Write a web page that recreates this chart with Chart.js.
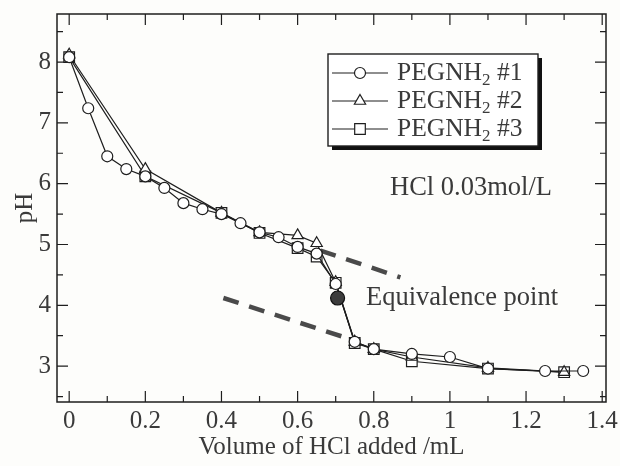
<!DOCTYPE html>
<html>
<head>
<meta charset="utf-8">
<script src="https://cdn.jsdelivr.net/npm/chart.js@4/dist/chart.umd.min.js"></script>
<style>
html, body { margin: 0; background: #fdfdfb; }
#wrap { width: 620px; height: 466px; }
</style>
</head>
<body>
<div id="wrap"><canvas id="chart"></canvas></div>
<script>
// titration curves
var x1 = [0, 0.05, 0.1, 0.15, 0.2, 0.25, 0.3, 0.35, 0.4, 0.45, 0.5, 0.55, 0.6, 0.65, 0.7, 0.75, 0.8, 0.9, 1.0, 1.1, 1.25, 1.35];
var y1 = [8.08, 7.24, 6.45, 6.24, 6.12, 5.93, 5.68, 5.58, 5.5, 5.35, 5.2, 5.12, 4.96, 4.85, 4.35, 3.4, 3.28, 3.2, 3.15, 2.96, 2.92, 2.92];
var x2 = [0, 0.2, 0.4, 0.5, 0.6, 0.65, 0.7, 0.75, 0.8, 0.9, 1.1, 1.3];
var y2 = [8.12, 6.24, 5.52, 5.2, 5.15, 5.02, 4.38, 3.4, 3.28, 3.15, 2.97, 2.9];
var x3 = [0, 0.2, 0.4, 0.5, 0.6, 0.65, 0.7, 0.75, 0.8, 0.9, 1.1, 1.3];
var y3 = [8.08, 6.12, 5.52, 5.19, 4.94, 4.8, 4.37, 3.38, 3.28, 3.08, 2.96, 2.9];
var seriesNames = ['PEGNH', 'PEGNH', 'PEGNH'];
var seriesTags = ['#1', '#2', '#3'];

// equivalence point and the two tangent lines
var eqX = [0.705], eqY = [4.12];
var upX = [0.66, 0.87], upY = [4.9, 4.46];
var loX = [0.405, 0.74], loY = [4.12, 3.44];

var xTicks = [0, 0.2, 0.4, 0.6, 0.8, 1, 1.2, 1.4];
var yTicks = [3, 4, 5, 6, 7, 8];
var xMinor = [0.1, 0.3, 0.5, 0.7, 0.9, 1.1, 1.3];
var yMinor = [2.5, 3.5, 4.5, 5.5, 6.5, 7.5, 8.5];

function pts(xs, ys) {
    return xs.map(function (x, i) { return { x: x, y: ys[i] }; });
}

var ink = '#1e1e1e';
var txt = '#3a3a3a';
var serif = '"Liberation Serif", "DejaVu Serif", serif';

function series(xs, ys, style, r) {
    return {
        data: pts(xs, ys),
        borderColor: ink,
        borderWidth: 1.2,
        pointStyle: style,
        pointRadius: r,
        pointBackgroundColor: '#ffffff',
        pointBorderColor: ink,
        pointBorderWidth: 1.2,
        tension: 0
    };
}

function dashed(xs, ys) {
    return {
        data: pts(xs, ys),
        borderColor: '#4a4a4a',
        borderWidth: 4.5,
        borderDash: [16, 11],
        pointRadius: 0,
        tension: 0
    };
}

function noPad(s) {
    s.paddingTop = 0; s.paddingBottom = 0;
    s.paddingLeft = 0; s.paddingRight = 0;
}

var frame = {
    id: 'frame',
    afterDatasetsDraw: function (chart) {
        var ctx = chart.ctx, a = chart.chartArea;
        var xs = chart.scales.x, ys = chart.scales.y;
        ctx.save();
        ctx.strokeStyle = ink;
        ctx.lineWidth = 1.5;
        ctx.strokeRect(a.left, a.top, a.right - a.left, a.bottom - a.top);
        ctx.lineWidth = 1.2;
        ctx.beginPath();
        function xt(v, len) {
            var p = xs.getPixelForValue(v);
            ctx.moveTo(p, a.bottom); ctx.lineTo(p, a.bottom - len);
            ctx.moveTo(p, a.top); ctx.lineTo(p, a.top + len);
        }
        function yt(v, len) {
            var p = ys.getPixelForValue(v);
            ctx.moveTo(a.left, p); ctx.lineTo(a.left + len, p);
            ctx.moveTo(a.right, p); ctx.lineTo(a.right - len, p);
        }
        xTicks.forEach(function (v) { xt(v, 11); });
        xMinor.forEach(function (v) { xt(v, 6); });
        yTicks.forEach(function (v) { yt(v, 11); });
        yMinor.forEach(function (v) { yt(v, 6); });
        ctx.stroke();

        // annotations
        ctx.fillStyle = txt;
        ctx.font = '26.5px ' + serif;
        ctx.textBaseline = 'middle';
        ctx.fillText('HCl 0.03mol/L', 390, 188);
        ctx.fillText('Equivalence point', 366, 298);

        // legend box with drop shadow
        var bx = 328, by = 54, bw = 210, bh = 92;
        ctx.fillStyle = '#111';
        ctx.fillRect(bx + 4, by + 4, bw, bh);
        ctx.fillStyle = '#ffffff';
        ctx.fillRect(bx, by, bw, bh);
        ctx.strokeStyle = ink;
        ctx.lineWidth = 1.4;
        ctx.strokeRect(bx, by, bw, bh);
        var styles = ['circle', 'triangle', 'rect'];
        var radii = [5.5, 6.5, 7.5];
        for (var i = 0; i < 3; i++) {
            var cy = by + 19 + i * 28;
            ctx.strokeStyle = ink;
            ctx.lineWidth = 1.2;
            ctx.beginPath();
            ctx.moveTo(bx + 4, cy); ctx.lineTo(bx + 60, cy);
            ctx.stroke();
            ctx.fillStyle = '#ffffff';
            Chart.helpers.drawPoint(ctx, { pointStyle: styles[i], radius: radii[i], borderWidth: 1.2 }, bx + 32, cy);
            ctx.fillStyle = txt;
            ctx.font = '25.5px ' + serif;
            ctx.textBaseline = 'middle';
            var tx = bx + 69;
            ctx.fillText(seriesNames[i], tx, cy);
            tx += ctx.measureText(seriesNames[i]).width;
            ctx.font = '17px ' + serif;
            ctx.fillText('2', tx, cy + 8);
            tx += ctx.measureText('2').width;
            ctx.font = '25.5px ' + serif;
            ctx.fillText(' ' + seriesTags[i], tx, cy);
        }
        ctx.restore();
    }
};

var ctx = document.getElementById('chart').getContext('2d');
var chart = new Chart(ctx, {
    type: 'line',
    data: {
        datasets: [
            {
                data: pts(eqX, eqY),
                showLine: false,
                pointRadius: 7,
                pointBackgroundColor: '#3c3c3c',
                pointBorderColor: '#111',
                pointBorderWidth: 1.2
            },
            series(x1, y1, 'circle', 5.5),
            series(x2, y2, 'triangle', 6.5),
            series(x3, y3, 'rect', 7.5),
            dashed(upX, upY),
            dashed(loX, loY)
        ]
    },
    options: {
        responsive: true,
        maintainAspectRatio: false,
        animation: false,
        layout: { padding: { left: 0, right: 14, top: 14, bottom: 0 } },
        plugins: {
            legend: { display: false },
            tooltip: { enabled: false }
        },
        scales: {
            x: {
                type: 'linear',
                min: -0.032,
                max: 1.41,
                afterBuildTicks: function (s) { s.ticks = xTicks.map(function (v) { return { value: v }; }); },
                afterFit: function (s) { s.height = 64; noPad(s); },
                grid: { display: false, drawTicks: false },
                border: { display: false },
                ticks: {
                    padding: 4,
                    color: txt,
                    font: { family: serif, size: 25 },
                    maxRotation: 0,
                    callback: function (v) { return String(Math.round(v * 10) / 10); }
                },
                title: {
                    display: true,
                    text: 'Volume of HCl added /mL',
                    color: txt,
                    font: { family: serif, size: 25 },
                    padding: { top: 0, bottom: 4 }
                }
            },
            y: {
                type: 'linear',
                min: 2.41,
                max: 8.79,
                afterBuildTicks: function (s) { s.ticks = yTicks.map(function (v) { return { value: v }; }); },
                afterFit: function (s) { s.width = 57; noPad(s); },
                grid: { display: false, drawTicks: false },
                border: { display: false },
                ticks: {
                    padding: 6,
                    color: txt,
                    font: { family: serif, size: 25 },
                    callback: function (v) { return String(v); }
                },
                title: {
                    display: true,
                    text: 'pH',
                    color: txt,
                    font: { family: serif, size: 25 },
                    padding: { top: 10, bottom: 0 }
                }
            }
        }
    },
    plugins: [frame]
});
</script>
</body>
</html>
